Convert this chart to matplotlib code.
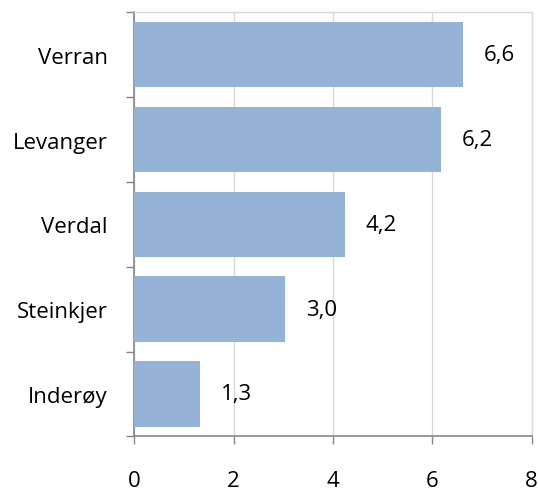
import matplotlib
matplotlib.use("Agg")
import matplotlib.pyplot as plt
import numpy as np

categories = ["Verran", "Levanger", "Verdal", "Steinkjer", "Inderøy"]
values = [6.62, 6.17, 4.24, 3.03, 1.32]
labels = ["6,6", "6,2", "4,2", "3,0", "1,3"]
xticks = [0, 2, 4, 6, 8]

plt.rcParams['font.family'] = ['Open Sans', 'DejaVu Sans']

fig = plt.figure(figsize=(5.38, 4.89), dpi=100)
ax = fig.add_axes([0.2496, 0.1057, 0.9883 - 0.2496, 0.9728 - 0.1057])

y = np.arange(len(categories))[::-1]
ax.barh(y, values, height=0.77, color="#95B3D7", zorder=3)
for yi, v, lab in zip(y, values, labels):
    ax.annotate(lab, (v, yi), xytext=(21, 0), textcoords="offset pixels",
                va="center", ha="left", fontsize=16, color="black")

ax.set_xlim(0, 8)
ax.set_ylim(-0.5, len(categories) - 0.5)
ax.set_xticks(xticks)
ax.set_xticklabels([str(t) for t in xticks], fontsize=16)
ax.set_yticks(y)
ax.set_yticklabels(categories, fontsize=16)
ax.set_yticks(np.arange(-0.5, len(categories), 1.0), minor=True)

ax.tick_params(axis="y", which="major", length=0, pad=19)
ax.tick_params(axis="y", which="minor", length=6, width=1, color="#868686", direction="out")
ax.tick_params(axis="x", which="major", length=6, width=1, color="#868686", direction="out", pad=18)

ax.grid(axis="x", color="#D9D9D9", linewidth=1, zorder=0)
for s in ["left", "bottom"]:
    ax.spines[s].set_color("#868686")
    ax.spines[s].set_linewidth(1.2)
for s in ["top", "right"]:
    ax.spines[s].set_color("#D9D9D9")
    ax.spines[s].set_linewidth(1)

fig.savefig("out.png", dpi=100)
